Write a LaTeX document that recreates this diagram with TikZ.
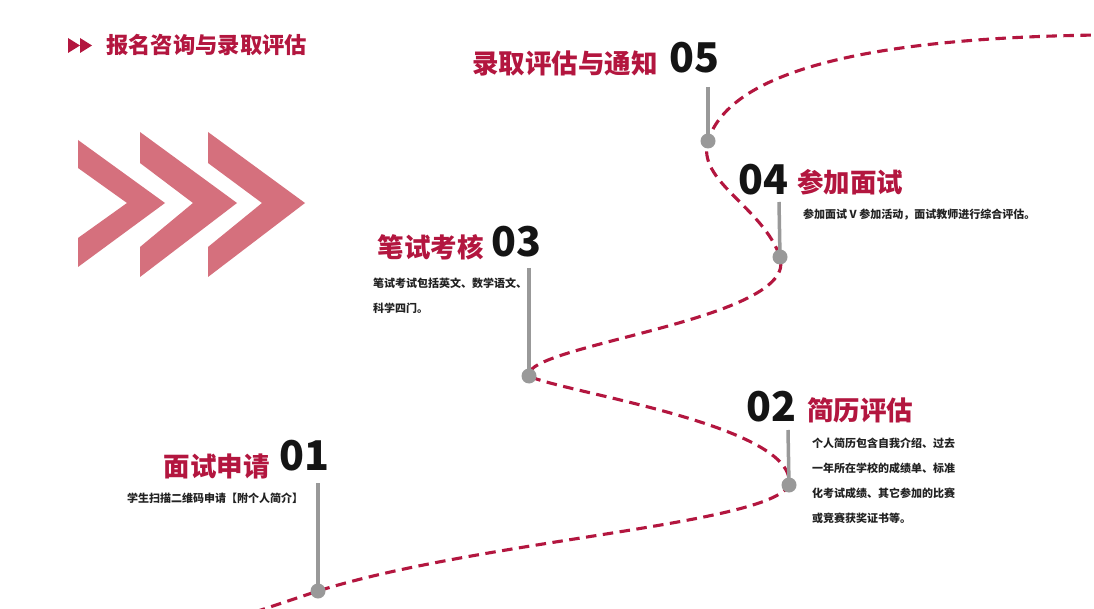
\documentclass[tikz,border=0pt]{standalone}
\usepackage{fontspec}
\setmainfont{Noto Sans CJK SC}
\definecolor{crim}{HTML}{B3163F}
\definecolor{chev}{HTML}{D5707D}
\definecolor{stemc}{HTML}{999999}
\definecolor{desct}{HTML}{222222}
\begin{document}
\begin{tikzpicture}[x=1pt,y=-1pt,
  titlet/.style={font=\fontsize{26.5}{30}\selectfont\bfseries, text=crim, inner sep=0},
  numt/.style={font=\fontsize{41}{45}\selectfont\bfseries, text=black!92, inner sep=0},
  desc/.style={font=\fontsize{11}{25}\selectfont\bfseries, text=desct, inner sep=0, align=left, anchor=west},
  stemline/.style={draw=stemc, line width=3.5pt},
  dotc/.style={circle, fill=stemc, minimum size=15pt, inner sep=0},
  trail/.style={draw=crim, line width=3.1pt, dash pattern=on 10.5pt off 6.5pt},
  chevron/.style={fill=chev, draw=none}]
\useasboundingbox (0,0) rectangle (1094,609);
\fill[white] (0,0) rectangle (1094,609);

% header
\fill[crim] (68,38) -- (80,45.5) -- (68,53) -- cycle;
\fill[crim] (80,38) -- (92,45.5) -- (80,53) -- cycle;
\node[anchor=west, inner sep=0, font=\fontsize{22.3}{24}\selectfont\bfseries, text=crim] (head) at (106,45) {报名咨询与录取评估};

% chevrons
\fill[chevron] (78,140) -- (165,203) -- (78,267) -- (78,238) -- (127,203) -- (78,168) -- cycle;
\fill[chevron] (140,132) -- (237,203) -- (140,277) -- (140,247) -- (193,203) -- (140,163) -- cycle;
\fill[chevron] (208,132) -- (305,203) -- (208,277) -- (208,247) -- (262,203) -- (208,163) -- cycle;

% dot centres and trail ends
\coordinate (p1) at (318,591);
\coordinate (p2) at (789,485);
\coordinate (p3) at (529,376);
\coordinate (p4) at (780,257);
\coordinate (p5) at (708,141);
\coordinate (tstart) at (255,612);
\coordinate (tend) at (1100,35);

% dashed trail
\draw[trail] (tstart) -- (p1)
  .. controls (480,540) and (769,525) .. (p2)
  .. controls (798,425) and (560,392) .. (p3)
  .. controls (521,345) and (800,320) .. (p4)
  .. controls (763,207) and (696,181) .. (p5)
  .. controls (728,76) and (850,38) .. (tend);

% stems
\coordinate (s1) at (318,483);
\coordinate (s2) at (788,430);
\coordinate (s3) at (529,268);
\coordinate (s4) at (779,202);
\coordinate (s5) at (708,87);
\draw[stemline] (s1) -- (p1);
\draw[stemline] (s2) -- (p2);
\draw[stemline] (s3) -- (p3);
\draw[stemline] (s4) -- (p4);
\draw[stemline] (s5) -- (p5);

% dots
\node[dotc] (d1) at (p1) {};
\node[dotc] (d2) at (p2) {};
\node[dotc] (d3) at (p3) {};
\node[dotc] (d4) at (p4) {};
\node[dotc] (d5) at (p5) {};

% step 01
\node[titlet, anchor=east] (t1) at (270,466) {面试申请};
\node[numt, anchor=west] (n1) at (279,456) {01};
\node[desc] (e1) at (127,498) {学生扫描二维码申请【附个人简介】};

% step 02
\node[numt, anchor=east] (n2) at (797,407) {02};
\node[titlet, anchor=west] (t2) at (807,410) {简历评估};
\node[desc] (e2) at (812,480.5) {个人简历包含自我介绍、过去\\一年所在学校的成绩单、标准\\化考试成绩、其它参加的比赛\\或竞赛获奖证书等。};

% step 03
\node[titlet, anchor=east] (t3) at (484,247) {笔试考核};
\node[numt, anchor=west] (n3) at (491,242) {03};
\node[desc] (e3) at (373,295.5) {笔试考试包括英文、数学语文、\\科学四门。};

% step 04
\node[numt, anchor=east] (n4) at (789,180) {04};
\node[titlet, anchor=west] (t4) at (797,182) {参加面试};
\node[desc] (e4) at (803,215) {参加面试 V 参加活动，面试教师进行综合评估。};

% step 05
\node[titlet, anchor=east] (t5) at (658,63) {录取评估与通知};
\node[numt, anchor=west] (n5) at (669,58) {05};
\end{tikzpicture}
\end{document}
